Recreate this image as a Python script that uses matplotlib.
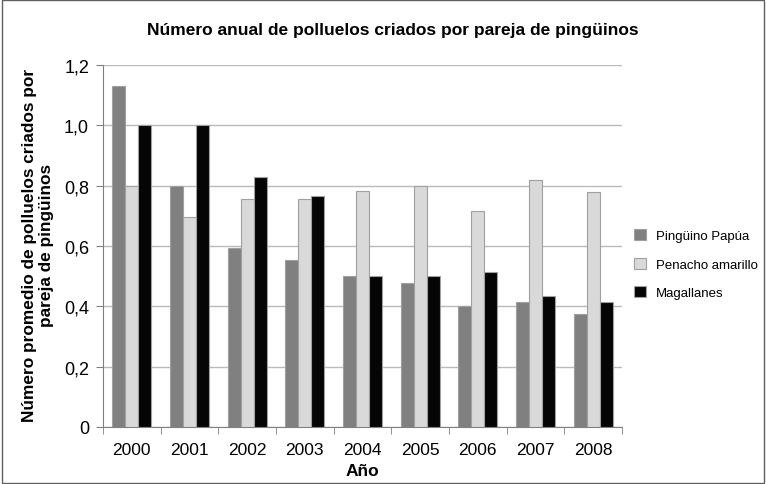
import numpy as np
import matplotlib.pyplot as plt

# Dane
years = ['2000', '2001', '2002', '2003', '2004', '2005', '2006', '2007', '2008']
papua = [1.13, 0.80, 0.595, 0.555, 0.50, 0.478, 0.40, 0.415, 0.375]
penacho = [0.80, 0.695, 0.755, 0.755, 0.783, 0.80, 0.715, 0.82, 0.78]
magallanes = [1.00, 1.00, 0.83, 0.765, 0.50, 0.50, 0.515, 0.435, 0.415]

series = [('Pingüino Papúa', papua, '#808080'),
          ('Penacho amarillo', penacho, '#d9d9d9'),
          ('Magallanes', magallanes, '#050505')]

plt.rcParams['font.family'] = ['Liberation Sans', 'DejaVu Sans']

fig = plt.figure(figsize=(7.66, 4.85), dpi=100)
ax = fig.add_axes([103 / 766, 1 - 428 / 485, (622 - 103) / 766, (428 - 66) / 485])

x = np.arange(len(years))
w = 0.225
for i, (name, vals, col) in enumerate(series):
    ax.bar(x + (i - 1) * w, vals, w, color=col, edgecolor='#a0a0a0', linewidth=0.8,
           label=name, zorder=3)

ax.set_xlim(-0.5, len(years) - 0.5)
ax.set_ylim(0, 1.2)
ax.set_yticks(np.arange(0, 1.21, 0.2))
ax.set_yticklabels(['0', '0,2', '0,4', '0,6', '0,8', '1,0', '1,2'], fontsize=13)
ax.set_xticks(x)
ax.set_xticklabels(years, fontsize=12.5)
ax.set_xticks(np.arange(-0.5, len(years), 1), minor=True)
ax.tick_params(axis='x', which='major', length=0, pad=11)
ax.tick_params(axis='x', which='minor', length=5, color='#808080', direction='out')
ax.tick_params(axis='y', length=5, color='#808080', pad=5)
ax.grid(axis='y', color='#bbbbbb', linewidth=1, zorder=0)
for s in ['top', 'right']:
    ax.spines[s].set_visible(False)
ax.spines['left'].set_color('#808080')
ax.spines['bottom'].set_color('#808080')

ax.set_xlabel('Año', fontsize=12.5, fontweight='bold', labelpad=4)
fig.text(38 / 766, 1 - 245 / 485,
         'Número promedio de polluelos criados por\npareja de pingüinos',
         rotation=90, ha='center', va='center', multialignment='center',
         fontsize=12.4, fontweight='bold')
fig.suptitle('Número anual de polluelos criados por pareja de pingüinos', x=393 / 766,
             y=1 - 30 / 485, va='center', fontsize=12.5, fontweight='bold')

ax.legend(loc='center left', bbox_to_anchor=(1.0, 0.45), frameon=False, fontsize=9.5,
          handlelength=0.9, handleheight=0.9, labelspacing=1.2, handletextpad=0.8)

fig.patches.append(plt.Rectangle((0.002, 0.002), 0.996, 0.996, transform=fig.transFigure,
                                 fill=False, edgecolor='#606060', linewidth=1))

fig.savefig('out.png', dpi=100)
